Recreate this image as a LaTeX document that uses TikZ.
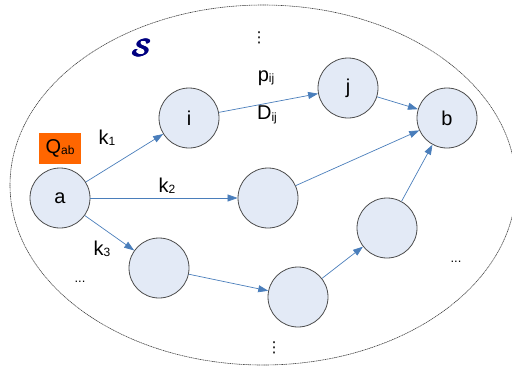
\documentclass[tikz,border=0pt]{standalone}
\usepackage{amsmath,amssymb}
\usepackage{fontspec}
\setmainfont{Liberation Sans}
\newfontfamily\symfont{DejaVu Sans}
\usetikzlibrary{arrows.meta}
\usepackage{xcolor}
\definecolor{edgeblue}{HTML}{4A7EBB}
\definecolor{nodefill}{HTML}{E3EAF6}
\definecolor{qorange}{HTML}{FF6600}
\definecolor{setnavy}{HTML}{000080}
\newcommand{\sbs}[1]{\raisebox{-1.5pt}{\fontsize{12}{13}\selectfont #1}}

\begin{document}
\begin{tikzpicture}[x=1pt, y=-1pt,
      stn/.style={circle, draw=black!70, fill=nodefill, line width=0.8pt,
                  minimum size=60pt, inner sep=0pt, font=\fontsize{20}{23}\selectfont},
      lbl/.style={font=\fontsize{20}{23}\selectfont, inner sep=0pt},
      dts/.style={font=\fontsize{13}{14}\selectfont, inner sep=0pt},
      vdt/.style={font=\symfont\fontsize{15}{16}\selectfont, inner sep=0pt},
      lnk/.style={draw=edgeblue, line width=0.7pt},
      >={Triangle[length=10pt, width=7pt, color=edgeblue]}]
    \useasboundingbox (0,0) rectangle (512,367);
    % the set
    \draw[black!75, line width=0.6pt, dash pattern=on 1.2pt off 0.6pt]
      (263,185) ellipse [x radius=253, y radius=180];
    \node[text=setnavy, font=\fontsize{24}{26}\selectfont] (set) at (142,48) {$\pmb{\boldsymbol{\mathcal{S}}}$};
    % stations
    \node[stn] (a) at (60,198) {a};
    \node[stn] (i) at (189,118) {i};
    \node[stn] (j) at (348,88) {j};
    \node[stn] (b) at (447,118) {b};
    \node[stn] (m) at (268,198) {};
    \node[stn] (l1) at (159,268) {};
    \node[stn] (l2) at (298,297) {};
    \node[stn] (r1) at (387,228) {};
    \node[lbl, fill=qorange, minimum width=42pt, minimum height=31pt] (q) at (60,148) {Q\sbs{ab}};
    % links
    \draw[lnk, ->] (a) -- (i);
    \draw[lnk, ->] (i) -- (j);
    \draw[lnk, ->] (j) -- (b);
    \draw[lnk, ->] (a) -- (m);
    \draw[lnk, ->] (m) -- (b);
    \draw[lnk, ->] (a) -- (l1);
    \draw[lnk, ->] (l1) -- (l2);
    \draw[lnk, ->] (l2) -- (r1);
    \draw[lnk, ->] (r1) -- (b);
    % labels
    \node[lbl] (k1) at (107,138) {k\sbs{1}};
    \node[lbl] (k2) at (167,186) {k\sbs{2}};
    \node[lbl] (k3) at (102,249) {k\sbs{3}};
    \node[lbl] (p) at (266,78) {p\sbs{ij}};
    \node[lbl] (d) at (267,115) {D\sbs{ij}};
    \node[dts] (dl) at (80,282) {...};
    \node[dts] (dr) at (456,262) {...};
    \node[vdt] (vt) at (259,38) {⋮};
    \node[vdt] (vb) at (274,348) {⋮};
  \end{tikzpicture}
\end{document}
